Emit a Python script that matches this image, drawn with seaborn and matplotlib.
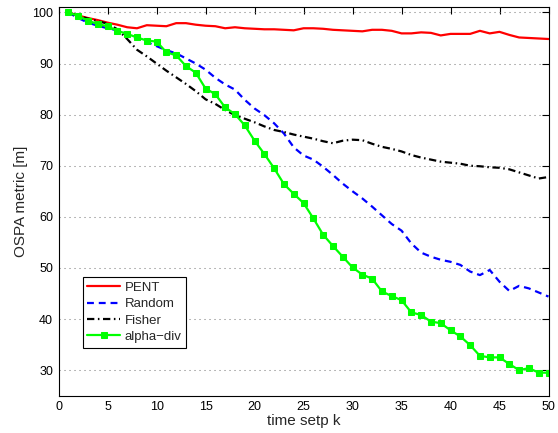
import numpy as np
import pandas as pd
import matplotlib
matplotlib.use("Agg")
import matplotlib.pyplot as plt
import seaborn as sns

k = list(range(1, 51))
pent = [100, 99.4, 98.9, 98.5, 98.0, 97.6, 97.1, 96.9, 97.5, 97.4,
        97.3, 97.9, 97.9, 97.6, 97.4, 97.3, 96.9, 97.1, 96.9, 96.8,
        96.7, 96.7, 96.6, 96.5, 96.9, 96.9, 96.8, 96.6, 96.5, 96.4,
        96.3, 96.6, 96.6, 96.4, 95.9, 95.9, 96.1, 96.0, 95.5, 95.8,
        95.8, 95.8, 96.4, 95.9, 96.2, 95.6, 95.1, 95.0, 94.9, 94.8]
random_ = [100, 98.9, 98.0, 97.4, 96.9, 96.5, 95.8, 94.9, 94.2, 93.4,
           92.6, 92.0, 91.0, 90.0, 88.8, 87.2, 85.9, 84.9, 82.9, 81.2,
           79.9, 78.3, 76.3, 73.6, 72.0, 71.2, 69.8, 68.2, 66.5, 65.0,
           63.6, 62.0, 60.3, 58.6, 57.3, 54.8, 53.0, 52.2, 51.6, 51.2,
           50.6, 49.3, 48.6, 49.6, 47.3, 45.5, 46.5, 46.0, 45.2, 44.4]
fisher = [100, 99.3, 98.8, 98.3, 97.8, 96.7, 94.8, 92.7, 91.4, 90.0,
          88.6, 87.3, 86.0, 84.6, 83.0, 82.1, 80.9, 79.9, 79.2, 78.5,
          77.7, 77.0, 76.6, 76.1, 75.7, 75.3, 74.8, 74.4, 74.9, 75.1,
          75.0, 74.3, 73.7, 73.3, 72.8, 72.1, 71.6, 71.2, 70.8, 70.6,
          70.4, 70.0, 69.9, 69.7, 69.6, 69.3, 68.7, 68.1, 67.5, 67.8]
alpha_div = [100, 99.3, 98.4, 97.7, 97.3, 96.4, 95.8, 95.1, 94.5, 94.3,
             92.2, 91.6, 89.5, 88.2, 85.1, 84.0, 81.4, 80.1, 77.9, 74.9,
             72.3, 69.5, 66.4, 64.5, 62.7, 59.7, 56.5, 54.3, 52.2, 50.1,
             48.7, 47.9, 45.4, 44.5, 43.7, 41.3, 40.8, 39.5, 39.2, 37.8,
             36.6, 34.9, 32.8, 32.5, 32.5, 31.2, 30.0, 30.4, 29.5, 29.5]

series_names = ["PENT", "Random", "Fisher", "alpha\u2212div"]
series_vals = [pent, random_, fisher, alpha_div]
x_ticks = list(range(0, 51, 5))
y_ticks = list(range(30, 101, 10))

sns.set_style("white")
plt.rcParams["font.family"] = ["Liberation Sans", "DejaVu Sans"]

fig = plt.figure(figsize=(5.58, 4.33), dpi=100)
ax = fig.add_axes([0.105, 0.0861, 0.878, 0.897])

styles = [
    dict(color=(1, 0, 0), dashes=None, marker=None),
    dict(color=(0, 0, 1), dashes=(3.1, 2.2), marker=None),
    dict(color=(0, 0, 0), dashes=(3.3, 1.6, 0.7, 1.6), marker=None),
    dict(color=(0, 1, 0), dashes=None, marker="s"),
]

for name, vals, st in zip(series_names, series_vals, styles):
    df = pd.DataFrame({"k": k, "v": vals})
    kw = dict(color=st["color"], linewidth=1.6, label=name)
    if st["marker"]:
        kw.update(marker="s", markersize=4.2, markeredgecolor=st["color"])
    sns.lineplot(data=df, x="k", y="v", ax=ax, **kw)
    line = ax.get_lines()[-1]
    if st["dashes"]:
        line.set_dashes(st["dashes"])

ax.set_xlim(0, 50)
ax.set_ylim(25, 101)
ax.set_xticks(x_ticks)
ax.set_yticks(y_ticks)
ax.yaxis.grid(True, linestyle=(0, (1, 3.8)), color="#7a7a7a", linewidth=0.75)
ax.xaxis.grid(False)
ax.tick_params(direction="in", top=True, right=True, length=5, width=0.8,
               labelsize=9, colors="black", pad=4)
for s in ax.spines.values():
    s.set_color("black")
    s.set_linewidth(0.8)
    s.set_visible(True)

ax.set_xlabel("time setp k", fontsize=11)
ax.set_ylabel("OSPA metric [m]", fontsize=11)
ax.xaxis.set_label_coords(0.5, -0.047)
ax.xaxis.label.set_va("top")
ax.yaxis.set_label_coords(-0.063, 0.5)

leg = ax.legend(loc="lower left", bbox_to_anchor=(0.049, 0.1236), fontsize=9.5,
                frameon=True, fancybox=False, edgecolor="black", framealpha=1,
                borderpad=0.35, labelspacing=0.32, handlelength=2.5,
                handletextpad=0.35, borderaxespad=0)
leg.get_frame().set_linewidth(0.8)

fig.savefig("out.png", dpi=100)
